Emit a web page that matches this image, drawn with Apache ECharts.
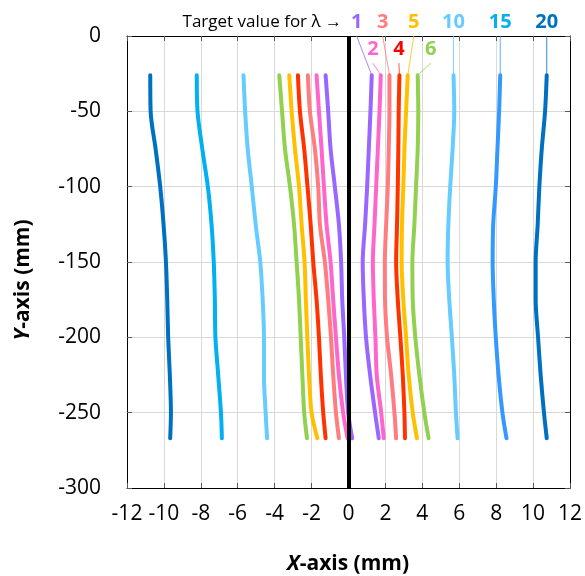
<!DOCTYPE html>
<html>
<head>
<meta charset="utf-8">
<script src="https://cdn.jsdelivr.net/npm/echarts@6/dist/echarts.min.js"></script>
<style>
  html, body { margin: 0; padding: 0; background: #fff; }
  #chart { width: 585px; height: 576px; }
</style>
</head>
<body>
<div id="chart"></div>
<script>
// depth of each sample (mm)
const yLevels = [-26, -50, -75, -100, -125, -150, -175, -200, -225, -250, -267]

// x position (mm) of each curve at those depths
const left1 = [-1.24, -1.10, -0.97, -0.74, -0.52, -0.40, -0.34, -0.23, -0.14, -0.02, 0.20]
const right1 = [1.26, 1.19, 1.10, 1.01, 0.90, 0.77, 0.83, 0.95, 1.17, 1.44, 1.64]
const left2 = [-1.73, -1.60, -1.46, -1.33, -1.19, -0.97, -0.83, -0.68, -0.52, -0.29, -0.05]
const right2 = [1.75, 1.68, 1.59, 1.50, 1.41, 1.32, 1.37, 1.46, 1.53, 1.77, 1.91]
const left3 = [-2.20, -2.09, -1.82, -1.64, -1.55, -1.28, -1.10, -0.95, -0.83, -0.68, -0.52]
const right3 = [2.22, 2.22, 2.18, 2.13, 2.04, 1.97, 1.98, 2.09, 2.31, 2.49, 2.58]
const left4 = [-2.74, -2.63, -2.40, -2.22, -2.05, -1.91, -1.73, -1.60, -1.50, -1.37, -1.24]
const right4 = [2.76, 2.72, 2.70, 2.67, 2.63, 2.58, 2.67, 2.81, 2.94, 3.03, 3.06]
const left5 = [-3.21, -3.08, -2.90, -2.68, -2.54, -2.38, -2.31, -2.23, -2.14, -2.00, -1.69]
const right5 = [3.21, 3.12, 3.03, 2.97, 2.90, 2.88, 2.97, 3.12, 3.26, 3.48, 3.71]
const left6 = [-3.75, -3.60, -3.44, -3.17, -2.95, -2.81, -2.68, -2.59, -2.50, -2.40, -2.25]
const right6 = [3.75, 3.78, 3.75, 3.66, 3.57, 3.46, 3.48, 3.62, 3.84, 4.11, 4.34]
const left10 = [-5.69, -5.60, -5.46, -5.24, -5.03, -4.78, -4.65, -4.58, -4.58, -4.49, -4.41]
const right10 = [5.69, 5.73, 5.64, 5.51, 5.41, 5.37, 5.46, 5.60, 5.73, 5.82, 5.91]
const left15 = [-8.22, -8.18, -7.92, -7.62, -7.42, -7.30, -7.24, -7.21, -7.06, -6.91, -6.86]
const right15 = [8.22, 8.16, 8.07, 7.98, 7.84, 7.81, 7.87, 7.98, 8.13, 8.34, 8.56]
const left20 = [-10.74, -10.72, -10.45, -10.20, -10.02, -9.89, -9.82, -9.77, -9.68, -9.62, -9.66]
const right20 = [10.74, 10.65, 10.47, 10.34, 10.25, 10.14, 10.14, 10.27, 10.41, 10.59, 10.74]

// target value labels and where their leader lines start (mm)
const lambdaLabels = ['1', '2', '3', '4', '5', '6', '10', '15', '20']
const leaderX = [0.44, 1.32, 1.85, 2.73, 3.54, 4.46, 5.69, 8.22, 10.74]
const leaderY = [0, -18, 0, -18, 0, -18, 0, 0, 0]

const xTicks = [-12, -10, -8, -6, -4, -2, 0, 2, 4, 6, 8, 10, 12]
const yTicks = [0, -50, -100, -150, -200, -250, -300]

const curves = [
  { name: '1', left: left1, right: right1, color: '#9966FF', rightColor: '#9966FF', label: '#9966FF' },
  { name: '2', left: left2, right: right2, color: '#FF66CC', rightColor: '#FF66CC', label: '#FF66CC' },
  { name: '3', left: left3, right: right3, color: '#FF7C80', rightColor: '#FF7C80', label: '#FF7C80' },
  { name: '4', left: left4, right: right4, color: '#FF3300', rightColor: '#FF3300', label: '#FF0000' },
  { name: '5', left: left5, right: right5, color: '#FFC000', rightColor: '#FFC000', label: '#FFC000' },
  { name: '6', left: left6, right: right6, color: '#92D050', rightColor: '#92D050', label: '#92D050' },
  { name: '10', left: left10, right: right10, color: '#66CCFF', rightColor: '#66CCFF', label: '#66CCFF' },
  { name: '15', left: left15, right: right15, color: '#00B0F0', rightColor: '#3399FF', label: '#00B0F0' },
  { name: '20', left: left20, right: right20, color: '#0070C0', rightColor: '#0070C0', label: '#0070C0' }
]

const toPoints = (xs) => xs.map((x, i) => [x, yLevels[i]])

const font = '"Open Sans", "Noto Sans", sans-serif'

const series = [
  {
    type: 'line',
    data: [],
    silent: true,
    markLine: {
      symbol: 'none',
      silent: true,
      label: { show: false },
      lineStyle: { color: '#000', width: 4, type: 'solid' },
      data: [{ xAxis: 0 }]
    }
  }
]

curves.forEach((c, i) => {
  // thin leader from the label down to the top of the right-hand curve
  series.push({
    type: 'line',
    data: [[leaderX[i], leaderY[i]], [c.right[0], yLevels[0]]],
    symbol: 'none',
    silent: true,
    lineStyle: { color: c.rightColor, width: 1, opacity: 0.8 }
  })
})

curves.forEach((c) => {
  series.push({
    type: 'line',
    name: c.name + ' left',
    data: toPoints(c.left),
    smooth: 0.3,
    symbol: 'none',
    lineStyle: { color: c.color, width: 4, cap: 'round', join: 'round' }
  })
  series.push({
    type: 'line',
    name: c.name + ' right',
    data: toPoints(c.right),
    smooth: 0.3,
    symbol: 'none',
    lineStyle: { color: c.rightColor, width: 4, cap: 'round', join: 'round' }
  })
})

const tickStyle = { inside: true, length: 5, lineStyle: { color: '#595959' } }
const axisLineStyle = { show: true, lineStyle: { color: '#000', width: 1 } }

const myChart = echarts.init(document.getElementById('chart'))
const option = {
  animation: false,
  grid: { left: 127, right: 14, top: 36, bottom: 88 },
  xAxis: [
    {
      type: 'value',
      min: xTicks[0],
      max: xTicks[xTicks.length - 1],
      interval: 2,
      axisLine: { ...axisLineStyle, onZero: false },
      axisTick: tickStyle,
      axisLabel: { interval: 0, margin: 16, fontFamily: font, fontSize: 21, color: '#000' },
      splitLine: { show: true, lineStyle: { color: '#D9D9D9' } }
    },
    {
      type: 'value',
      position: 'top',
      min: xTicks[0],
      max: xTicks[xTicks.length - 1],
      interval: 2,
      axisLine: { ...axisLineStyle, onZero: false },
      axisTick: tickStyle,
      axisLabel: { show: false },
      splitLine: { show: false }
    }
  ],
  yAxis: [
    {
      type: 'value',
      min: yTicks[yTicks.length - 1],
      max: yTicks[0],
      interval: 50,
      axisLine: { ...axisLineStyle, onZero: false },
      axisTick: tickStyle,
      axisLabel: { margin: 26, fontFamily: font, fontSize: 21, color: '#000' },
      splitLine: { show: true, lineStyle: { color: '#D9D9D9' } }
    },
    {
      type: 'value',
      position: 'right',
      min: yTicks[yTicks.length - 1],
      max: yTicks[0],
      interval: 50,
      axisLine: { ...axisLineStyle, onZero: false },
      axisTick: tickStyle,
      axisLabel: { show: false },
      splitLine: { show: false }
    }
  ],
  series: series
}
myChart.setOption(option)

// titles and target value labels
const graphics = [
  {
    type: 'text',
    x: 348,
    y: 564,
    style: {
      text: '{i|X}{b|-axis (mm)}',
      align: 'center',
      verticalAlign: 'middle',
      rich: {
        i: { fontFamily: font, fontSize: 21, fontWeight: 'bold', fontStyle: 'italic', fill: '#000' },
        b: { fontFamily: font, fontSize: 21, fontWeight: 'bold', fill: '#000' }
      }
    }
  },
  {
    type: 'text',
    x: 23,
    y: 280,
    rotation: Math.PI / 2,
    style: {
      text: '{i|Y}{b|-axis (mm)}',
      align: 'center',
      verticalAlign: 'middle',
      rich: {
        i: { fontFamily: font, fontSize: 21, fontWeight: 'bold', fontStyle: 'italic', fill: '#000' },
        b: { fontFamily: font, fontSize: 21, fontWeight: 'bold', fill: '#000' }
      }
    }
  },
  {
    type: 'text',
    x: 342,
    y: 22,
    style: {
      text: 'Target value for λ →',
      align: 'right',
      verticalAlign: 'middle',
      fontFamily: font,
      fontSize: 17,
      fill: '#000'
    }
  }
]

curves.forEach((c, i) => {
  const p = myChart.convertToPixel({ gridIndex: 0 }, [leaderX[i], leaderY[i]])
  graphics.push({
    type: 'text',
    x: p[0],
    y: p[1] - 14,
    style: {
      text: lambdaLabels[i],
      align: 'center',
      verticalAlign: 'middle',
      fontFamily: font,
      fontSize: 20,
      fontWeight: 'bold',
      fill: c.label
    }
  })
})

myChart.setOption({ graphic: graphics })
</script>
</body>
</html>
